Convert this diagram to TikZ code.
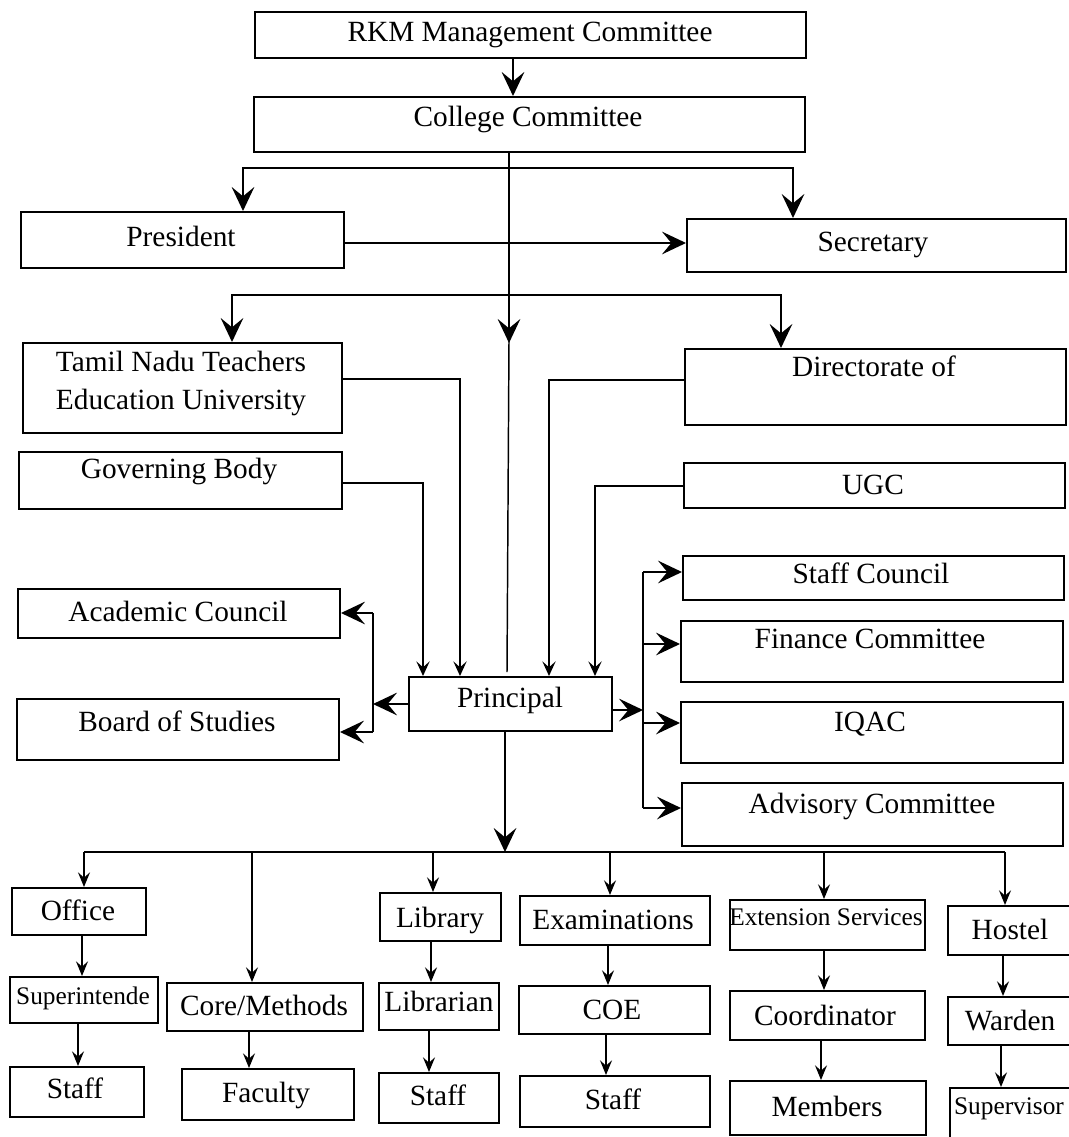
\documentclass[tikz,border=0pt]{standalone}
\usepackage{fontspec}
\setmainfont{Liberation Serif}
\usetikzlibrary{arrows.meta,fit,calc}
\begin{document}
\begin{tikzpicture}[x=0.75pt,y=-0.75pt,
  box/.style={draw, line width=1.5pt, inner sep=0pt},
  lbl/.style={font=\fontsize{22}{26}\selectfont, inner sep=0pt, anchor=base},
  sml/.style={font=\fontsize{19}{22}\selectfont, inner sep=0pt, anchor=base},
  conn/.style={line width=1.1pt},
  big/.style={conn, -{Stealth[length=18pt,width=17pt,inset=7pt]}},
  med/.style={conn, -{Stealth[length=11pt,width=10pt,inset=4.5pt]}},
  sm/.style={conn, -{Stealth[length=11pt,width=9pt,inset=4pt]}},
]
\useasboundingbox (0,0) rectangle (1068,1137);
\fill[white] (0,0) rectangle (1068,1137);

% ---------- upper boxes ----------
\node[box,fit={(255,12)(806,58)}] (rkm) {};
\node[lbl] at (530,42) {RKM Management Committee};
\node[box,fit={(254,97)(805,152)}] (col) {};
\node[lbl] at (528,127) {College Committee};
\node[box,fit={(21,212)(344,268)}] (pres) {};
\node[lbl] at (181,247) {President};
\node[box,fit={(687,219)(1066,272)}] (sec) {};
\node[lbl] at (873,252) {Secretary};
\node[box,fit={(23,343)(342,433)}] (tn) {};
\node[lbl] at (181,371) {Tamil Nadu Teachers};
\node[lbl] at (181,409) {Education University};
\node[box,fit={(685,349)(1066,425)}] (dir) {};
\node[lbl] at (874,376) {Directorate of};
\node[box,fit={(19,452)(342,509)}] (gov) {};
\node[lbl] at (179,478) {Governing Body};
\node[box,fit={(684,463)(1065,508)}] (ugc) {};
\node[lbl] at (873,494) {UGC};
\node[box,fit={(683,556)(1064,600)}] (sc) {};
\node[lbl] at (871,583) {Staff Council};
\node[box,fit={(18,589)(340,638)}] (ac) {};
\node[lbl] at (178,621) {Academic Council};
\node[box,fit={(681,621)(1063,682)}] (fc) {};
\node[lbl] at (870,648) {Finance Committee};
\node[box,fit={(409,677)(612,731)}] (pr) {};
\node[lbl] at (510,707) {Principal};
\node[box,fit={(17,699)(339,760)}] (bos) {};
\node[lbl] at (177,731) {Board of Studies};
\node[box,fit={(681,702)(1063,763)}] (iqac) {};
\node[lbl] at (870,731) {IQAC};
\node[box,fit={(682,783)(1063,846)}] (adv) {};
\node[lbl] at (872,813) {Advisory Committee};

% ---------- lower boxes ----------
\node[box,fit={(12,888)(146,935)}] (off) {};
\node[lbl] at (78,920) {Office};
\node[box,fit={(10,977)(158,1023)}] (sup) {};
\node[sml] at (83,1004) {Superintende};
\node[box,fit={(10,1067)(144,1117)}] (st1) {};
\node[lbl] at (75,1098) {Staff};
\node[box,fit={(167,983)(363,1031)}] (core) {};
\node[lbl] at (264,1015) {Core/Methods};
\node[box,fit={(182,1069)(354,1120)}] (fac) {};
\node[lbl] at (266,1102) {Faculty};
\node[box,fit={(380,893)(501,941)}] (lib) {};
\node[lbl] at (440,927) {Library};
\node[box,fit={(379,983)(499,1030)}] (libn) {};
\node[lbl] at (439,1011) {Librarian};
\node[box,fit={(379,1073)(499,1123)}] (st2) {};
\node[lbl] at (438,1105) {Staff};
\node[box,fit={(520,896)(710,945)}] (exam) {};
\node[lbl] at (613,929) {Examinations};
\node[box,fit={(519,986)(710,1034)}] (coe) {};
\node[lbl] at (612,1019) {COE};
\node[box,fit={(520,1076)(710,1127)}] (st3) {};
\node[lbl] at (613,1109) {Staff};
\node[box,fit={(730,900)(925,950)}] (ext) {};
\node[sml] at (826,925) {Extension Services};
\node[box,fit={(730,991)(925,1040)}] (coord) {};
\node[lbl] at (825,1025) {Coordinator};
\node[box,fit={(730,1081)(926,1135)}] (mem) {};
\node[lbl] at (827,1116) {Members};
\node[box,fit={(948,906)(1075,955)}] (hos) {};
\node[lbl] at (1010,939) {Hostel};
\node[box,fit={(948,997)(1075,1045)}] (war) {};
\node[lbl] at (1010,1030) {Warden};
\node[box,fit={(950,1088)(1075,1142)}] (supv) {};
\node[sml] at (1009,1114) {Supervisor};

% ---------- connectors: top ----------
\draw[big] (513,0 |- rkm.south) -- (513,0 |- col.north);
\draw[big] (509,0 |- col.south) -- (509,343);
\draw[conn] (509,340) -- (507,672);
\draw[big] (510,168) -| (243,0 |- pres.north);
\draw[big] (510,168) -| (793,0 |- sec.north);
\draw[big] (pres.east |- 0,243) -- (sec.west |- 0,243);
\draw[big] (509,295) -| (232,0 |- tn.north);
\draw[big] (509,295) -| (781,0 |- dir.north);

% into Principal
\draw[med] (tn.east |- 0,379) -| (460,0 |- pr.north);
\draw[med] (gov.east |- 0,483) -| (423,0 |- pr.north);
\draw[med] (dir.west |- 0,380) -| (549,0 |- pr.north);
\draw[med] (ugc.west |- 0,486) -| (595,0 |- pr.north);

% right bus
\draw[big] (pr.east |- 0,710) -- (643,710);
\draw[conn] (643,572) -- (643,808);
\draw[big] (643,572) -- (sc.west |- 0,572);
\draw[big] (643,644) -- (fc.west |- 0,644);
\draw[big] (643,723) -- (iqac.west |- 0,723);
\draw[big] (643,808) -- (adv.west |- 0,808);

% left bus
\draw[big] (pr.west |- 0,704) -- (373,704);
\draw[conn] (373,613) -- (373,732);
\draw[big] (373,613) -- (ac.east |- 0,613);
\draw[big] (373,732) -- (bos.east |- 0,732);

% down to departments
\draw[big] (505,0 |- pr.south) -- (505,852);
\draw[conn] (84,852) -- (1005,852);
\draw[sm] (84,852) -- (84,0 |- off.north);
\draw[sm] (252,852) -- (252,0 |- core.north);
\draw[sm] (433,852) -- (433,0 |- lib.north);
\draw[sm] (610,852) -- (610,0 |- exam.north);
\draw[sm] (824,852) -- (824,0 |- ext.north);
\draw[sm] (1005,852) -- (1005,0 |- hos.north);

% columns
\draw[sm] (82,0 |- off.south) -- (82,0 |- sup.north);
\draw[sm] (78,0 |- sup.south) -- (78,0 |- st1.north);
\draw[sm] (249,0 |- core.south) -- (249,0 |- fac.north);
\draw[sm] (431,0 |- lib.south) -- (431,0 |- libn.north);
\draw[sm] (429,0 |- libn.south) -- (429,0 |- st2.north);
\draw[sm] (608,0 |- exam.south) -- (608,0 |- coe.north);
\draw[sm] (606,0 |- coe.south) -- (606,0 |- st3.north);
\draw[sm] (824,0 |- ext.south) -- (824,0 |- coord.north);
\draw[sm] (821,0 |- coord.south) -- (821,0 |- mem.north);
\draw[sm] (1003,0 |- hos.south) -- (1003,0 |- war.north);
\draw[sm] (1001,0 |- war.south) -- (1001,0 |- supv.north);
\end{tikzpicture}
\end{document}
